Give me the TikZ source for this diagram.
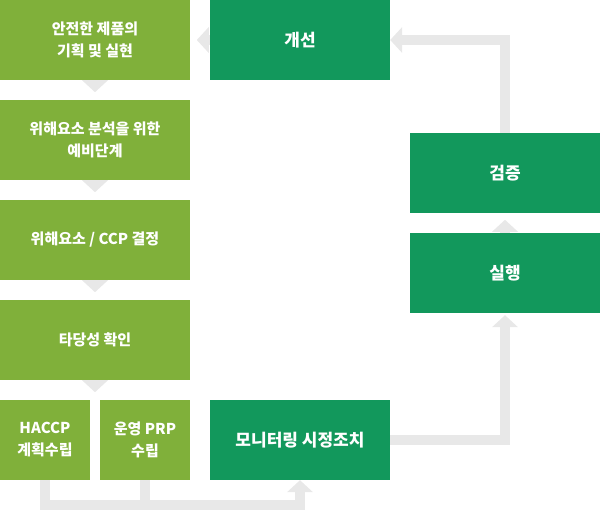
\documentclass[tikz,border=0pt]{standalone}
\usepackage{fontspec}
\setmainfont{Noto Sans CJK KR}
\usetikzlibrary{arrows.meta}

\definecolor{vertclair}{HTML}{80B03A}
\definecolor{vertfonce}{HTML}{12985C}
\definecolor{gris}{HTML}{E8E8E8}

\begin{document}
\begin{tikzpicture}[x=1pt,y=-1pt,
	etape/.style={minimum width=190pt,minimum height=80pt,inner sep=0pt,text=white,align=center,fill=vertclair,font=\bfseries\fontsize{15}{22}\selectfont},
	petite/.style={etape,minimum width=90pt},
	etapeverte/.style={etape,minimum width=180pt,fill=vertfonce,font=\bfseries\fontsize{17}{22}\selectfont},
	fleche/.style={draw=gris,line width=10pt,-{Triangle[width=26pt,length=12pt,line width=0pt]}}]
		\useasboundingbox (0,0) rectangle (600,510);
		%\node (nom node) at(x,y) [style] {affichage} ;
		\node (node 1) at(95,40) [etape] {안전한 제품의\\기획 및 실현} ;
		\node (node 2) at(95,140) [etape] {위해요소 분석을 위한\\예비단계} ;
		\node (node 3) at(95,240) [etape] {위해요소 / CCP 결정} ;
		\node (node 4) at(95,340) [etape] {타당성 확인} ;
		\node (node 5) at(45,440) [petite] {HACCP\\계획수립} ;
		\node (node 6) at(145,440) [petite] {운영 PRP\\수립} ;
		\node (node 7) at(300,440) [etapeverte] {모니터링 시정조치} ;
		\node (node 8) at(505,273) [etapeverte,minimum width=190pt] {실행} ;
		\node (node 9) at(505,173) [etapeverte,minimum width=190pt] {검증} ;
		\node (node 10) at(300,40) [etapeverte] {개선} ;
		\coordinate (jonction) at(300,505) ;

%pointes seules entre les etapes
		\foreach \n in {1,...,4}
			\draw[fleche] (node \n.south) -- ++(0,12);
		\draw[fleche] (node 8.north) -- ++(0,-13);
		\draw[fleche] (node 10.west) -- ++(-13,0);

%fleches coudees
		\draw[fleche] (node 5.south) |- (jonction) -- (node 7.south);
		\draw[draw=gris,line width=10pt] (node 6.south) -- (node 6.south |- jonction);
		\draw[fleche,shorten >=2pt] (node 7.east) -| (node 8.south);
		\draw[fleche] (node 9.north) |- (node 10.east);
	\end{tikzpicture}
\end{document}
